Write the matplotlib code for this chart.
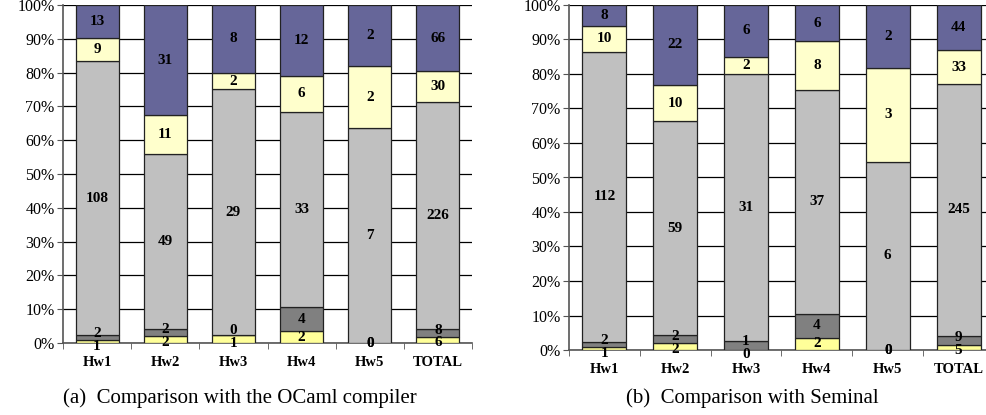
import matplotlib
matplotlib.use("Agg")
import matplotlib.pyplot as plt
import numpy as np
from matplotlib.ticker import FuncFormatter, FixedLocator

plt.rcParams['font.family'] = ['Liberation Serif', 'DejaVu Serif']

# Data
categories = ["Hw1", "Hw2", "Hw3", "Hw4", "Hw5", "TOTAL"]

# bottom to top segments: yellow, dark gray, light gray, light yellow, purple
ocaml_yellow = [1, 2, 1, 2, 0, 6]
ocaml_dgray = [2, 2, 0, 4, 0, 8]
ocaml_lgray = [108, 49, 29, 33, 7, 226]
ocaml_lyellow = [9, 11, 2, 6, 2, 30]
ocaml_purple = [13, 31, 8, 12, 2, 66]

seminal_yellow = [1, 2, 0, 2, 0, 5]
seminal_dgray = [2, 2, 1, 4, 0, 9]
seminal_lgray = [112, 59, 31, 37, 6, 245]
seminal_lyellow = [10, 10, 2, 8, 3, 33]
seminal_purple = [8, 22, 6, 6, 2, 44]

colors = ["#FFFF99", "#808080", "#C0C0C0", "#FFFFCC", "#666699"]

W, H = 986, 415
fig = plt.figure(figsize=(W / 100, H / 100), dpi=100)

MIN_GAP = 3.8  # percent, labels closer than this get pushed apart


def draw(ax, series, width):
    data = np.array(series, dtype=float)
    totals = data.sum(axis=0)
    pct = data / totals * 100
    x = np.arange(len(categories))
    bottom = np.zeros(len(categories))
    centers = []
    for i in range(len(series)):
        ax.bar(x, pct[i], width, bottom=bottom, color=colors[i],
               edgecolor="#222222", linewidth=0.9, zorder=3)
        centers.append(bottom + pct[i] / 2)
        bottom += pct[i]
    centers = np.array(centers)
    # spread the two bottom labels if they collide (like Excel does)
    for j in range(len(categories)):
        a, b = centers[0][j], centers[1][j]
        if b > a and b - a < MIN_GAP:
            mid = (a + b) / 2
            centers[0][j] = mid - MIN_GAP / 2
            centers[1][j] = mid + MIN_GAP / 2
    for i in range(len(series)):
        for j in range(len(categories)):
            ax.text(x[j], centers[i][j], str(series[i][j]),
                    ha="center", va="center", fontsize=11,
                    fontweight="bold", zorder=4)
    ax.set_xlim(-0.5, len(categories) - 0.5)
    ax.set_ylim(0, 100)
    ax.yaxis.set_major_locator(FixedLocator(np.arange(0, 101, 10)))
    ax.yaxis.set_major_formatter(FuncFormatter(lambda v, p: "%d%%" % v))
    ax.grid(axis="y", color="black", linewidth=0.9, zorder=0)
    ax.set_xticks(x)
    ax.set_xticklabels(categories, fontsize=10.5, fontweight="bold")
    ax.set_xticks(np.arange(-0.5, len(categories)), minor=True)
    ax.tick_params(axis="x", which="major", length=0, pad=9)
    ax.tick_params(axis="x", which="minor", length=4, color="#555555",
                   direction="out")
    ax.tick_params(axis="y", length=4, color="#555555", labelsize=11.5,
                   pad=2)
    for s in ["top", "right"]:
        ax.spines[s].set_visible(False)
    for s in ["left", "bottom"]:
        ax.spines[s].set_color("#555555")
        ax.spines[s].set_linewidth(1.2)


ax1 = fig.add_axes([63 / W, (H - 343) / H, (472 - 63) / W, (343 - 5) / H])
draw(ax1, [ocaml_yellow, ocaml_dgray, ocaml_lgray, ocaml_lyellow,
           ocaml_purple], 0.63)

ax2 = fig.add_axes([569 / W, (H - 350) / H, (994 - 569) / W, (350 - 5) / H])
draw(ax2, [seminal_yellow, seminal_dgray, seminal_lgray, seminal_lyellow,
           seminal_purple], 0.62)

fig.text(240 / W, 1 - 398 / H, "(a)  Comparison with the OCaml compiler",
         ha="center", va="center", fontsize=15)
fig.text(752 / W, 1 - 398 / H, "(b)  Comparison with Seminal",
         ha="center", va="center", fontsize=15)

fig.savefig("out.png", dpi=100)
